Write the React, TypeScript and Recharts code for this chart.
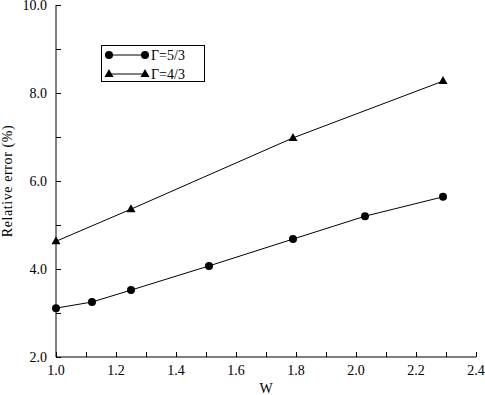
import { Line, LineChart, XAxis, YAxis } from "recharts";

const gamma53W = [1.0, 1.12, 1.25, 1.51, 1.79, 2.03, 2.29];
const gamma53Err = [3.11, 3.25, 3.52, 4.07, 4.68, 5.2, 5.64];
const gamma43W = [1.0, 1.25, 1.79, 2.29];
const gamma43Err = [4.63, 5.36, 6.98, 8.27];

const xTicks = [1.0, 1.1, 1.2, 1.3, 1.4, 1.5, 1.6, 1.7, 1.8, 1.9, 2.0, 2.1, 2.2, 2.3, 2.4];
const yTicks = [2, 3, 4, 5, 6, 7, 8, 9, 10];

const FONT = "'Liberation Serif', 'DejaVu Serif', serif";

const toPoints = (xs: number[], ys: number[]) => xs.map((w, i) => ({ w, err: ys[i] }));

const data53 = toPoints(gamma53W, gamma53Err);
const data43 = toPoints(gamma43W, gamma43Err);

const isMajorX = (v: number) => Math.round(v * 10) % 2 === 0;
const isMajorY = (v: number) => Math.round(v) % 2 === 0;

const TICK = 5;

// ticks point inward, drawn by hand (tickSize 0 puts x/y right on the axis line)
const BottomTick = ({ x, y, payload }: any) => (
  <g>
    <line x1={x} y1={y} x2={x} y2={y - TICK} stroke="#000" strokeWidth={1} shapeRendering="crispEdges" />
    {isMajorX(payload.value) && (
      <text x={x} y={y + 18} textAnchor="middle" fontFamily={FONT} fontSize={14} fill="#000">
        {payload.value.toFixed(1)}
      </text>
    )}
  </g>
);

const TopTick = ({ x, y }: any) => (
  <line x1={x} y1={y} x2={x} y2={y + TICK} stroke="#000" strokeWidth={1} shapeRendering="crispEdges" />
);

const LeftTick = ({ x, y, payload }: any) => (
  <g>
    <line x1={x} y1={y} x2={x + TICK} y2={y} stroke="#000" strokeWidth={1} shapeRendering="crispEdges" />
    {isMajorY(payload.value) && (
      <text x={x - 9} y={y + 5} textAnchor="end" fontFamily={FONT} fontSize={14} fill="#000">
        {payload.value.toFixed(1)}
      </text>
    )}
  </g>
);

const RightTick = ({ x, y }: any) => (
  <line x1={x} y1={y} x2={x - TICK} y2={y} stroke="#000" strokeWidth={1} shapeRendering="crispEdges" />
);

const Triangle = ({ cx, cy }: any) => {
  if (cx == null || cy == null) return null;
  return <polygon points={`${cx},${cy - 5} ${cx - 4.5},${cy + 3} ${cx + 4.5},${cy + 3}`} fill="#000" />;
};

const Circle = ({ cx, cy }: any) => {
  if (cx == null || cy == null) return null;
  return <circle cx={cx} cy={cy} r={4} fill="#000" />;
};

const LegendBox = () => (
  <div
    style={{
      position: "absolute",
      left: 101,
      top: 45,
      width: 102,
      height: 35,
      border: "1px solid #000",
      background: "#fff",
    }}
  >
    <svg width={102} height={35} style={{ display: "block" }}>
      <line x1={7} y1={9} x2={43} y2={9} stroke="#000" />
      <circle cx={7} cy={9} r={4} fill="#000" />
      <circle cx={43} cy={9} r={4} fill="#000" />
      <text x={49} y={14} fontFamily={FONT} fontSize={14} fill="#000">
        Γ=5/3
      </text>
      <line x1={7} y1={28} x2={43} y2={28} stroke="#000" />
      <polygon points="7,23 2.5,31 11.5,31" fill="#000" />
      <polygon points="43,23 38.5,31 47.5,31" fill="#000" />
      <text x={49} y={33} fontFamily={FONT} fontSize={14} fill="#000">
        Γ=4/3
      </text>
    </svg>
  </div>
);

const axisStroke = { stroke: "#000" };

export default function App() {
  return (
    <div style={{ position: "absolute", left: 0, top: 0, width: 485, height: 395, background: "#fff" }}>
      <LineChart width={485} height={395} margin={{ top: 5, right: 9, bottom: 0, left: 0 }}>
        <XAxis
          dataKey="w"
          type="number"
          domain={[1.0, 2.4]}
          ticks={xTicks}
          interval={0}
          height={38}
          tickSize={0}
          tickMargin={0}
          tickLine={false}
          tick={<BottomTick />}
          axisLine={axisStroke}
          label={{ value: "W", position: "insideBottom", offset: 2, fontFamily: FONT, fontSize: 14, fill: "#000" }}
        />
        <XAxis
          xAxisId="top"
          orientation="top"
          dataKey="w"
          type="number"
          domain={[1.0, 2.4]}
          ticks={xTicks}
          interval={0}
          height={0}
          tickSize={0}
          tickMargin={0}
          tickLine={false}
          tick={<TopTick />}
          axisLine={axisStroke}
        />
        <YAxis
          type="number"
          domain={[2, 10]}
          ticks={yTicks}
          interval={0}
          width={56}
          tickSize={0}
          tickMargin={0}
          tickLine={false}
          tick={<LeftTick />}
          axisLine={axisStroke}
          label={{
            content: ({ viewBox }: any) => (
              <text
                x={viewBox.x + 12}
                y={viewBox.y + viewBox.height / 2}
                transform={`rotate(-90, ${viewBox.x + 12}, ${viewBox.y + viewBox.height / 2})`}
                textAnchor="middle"
                fontFamily={FONT}
                fontSize={14}
                letterSpacing={0.6}
                fill="#000"
              >
                Relative error (%)
              </text>
            ),
          }}
        />
        <YAxis
          yAxisId="right"
          orientation="right"
          type="number"
          domain={[2, 10]}
          ticks={yTicks}
          interval={0}
          width={0}
          tickSize={0}
          tickMargin={0}
          tickLine={false}
          tick={<RightTick />}
          axisLine={axisStroke}
        />
        <Line
          data={data53}
          dataKey="err"
          name="Γ=5/3"
          type="linear"
          stroke="#000"
          strokeWidth={1}
          dot={<Circle />}
          activeDot={false}
          isAnimationActive={false}
        />
        <Line
          data={data43}
          dataKey="err"
          name="Γ=4/3"
          type="linear"
          stroke="#000"
          strokeWidth={1}
          dot={<Triangle />}
          activeDot={false}
          isAnimationActive={false}
        />
      </LineChart>
      <LegendBox />
    </div>
  );
}
